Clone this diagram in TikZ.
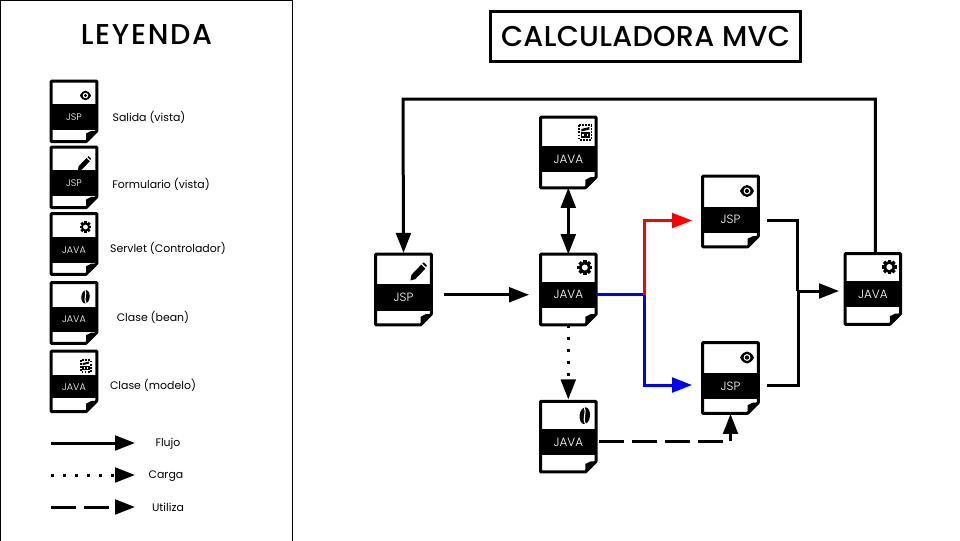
\documentclass[tikz,border=0pt]{standalone}
\usepackage{fontspec}
\setmainfont{Poppins}
\newfontfamily\titlefont{Poppins Medium}
\newfontfamily\bandfont{Poppins Light}
\usetikzlibrary{arrows.meta,calc}
\tikzset{
  flecha/.style={line width=2.25pt,-{Triangle[length=15pt,width=11pt]}},
  linea/.style={line width=2.25pt},
  punteado/.style={dash pattern=on 2.25pt off 6.75pt},
  rayado/.style={dash pattern=on 18.6pt off 6.15pt},
  docbody/.style={inner sep=0pt},
  docband/.style={fill=black,text=white,inner sep=0pt,font=\bandfont\fontsize{\bandsize}{\bandsize}\selectfont},
  leyenda/.style={font=\fontsize{8.2pt}{10pt}\selectfont,inner sep=0pt},
  titulos/.style={font=\titlefont\fontsize{21.5pt}{23pt}\selectfont,inner sep=0pt},
}
\newcommand{\bandsize}{7.2pt}
% name, x, y, width, height, band top, band bottom, label, icon
\newcommand{\docfile}[9]{
  \node[docbody,minimum width=#4*0.75pt,minimum height=#5*0.75pt] (#1) at (#2,#3) {};
  \fill[white] (#1.north west) rectangle (#1.south east);
  \draw[line width=2.25pt,line join=round] (#1.north west) -- (#1.north east) -- ([yshift=8pt]#1.south east) -- ([xshift=-8pt]#1.south east) -- (#1.south west) -- cycle;
  \fill ([yshift=8pt]#1.south east) -- ([xshift=-8pt]#1.south east) -- ([xshift=-8pt,yshift=6pt]#1.south east) -- ([xshift=-4pt,yshift=8pt]#1.south east) -- cycle;
  \node[docband,minimum width=#4*0.75pt,minimum height=(#7-#6)*0.75pt,text depth=0pt] (#1band) at (#2,#3+#6/2+#7/2) {#8};
  \begin{scope}[shift={(#2+#4/2-11,#3-#5/2+13)}]
  #9
  \end{scope}
}
% iconos
\newcommand{\iconeye}{
  \begin{scope}[shift={(0,1.5)}]
  \fill (-7,0) .. controls (-3,-8) and (3,-8) .. (7,0) .. controls (3,8) and (-3,8) .. (-7,0) -- cycle;
  \fill[white] (0,0) circle (3.4);
  \fill (0,0) circle (2.1);
  \end{scope}
}
\newcommand{\iconpencil}{
  \begin{scope}[shift={(-2,4)}]
  \fill (-7.5,9) -- (-6.6,3.4) -- (3.2,-6.8) -- (7.4,-2.8) -- (-2.6,7.6) -- cycle;
  \fill (4.4,-8) -- (5.8,-9.2) -- (9,-6) -- (8,-4.4) -- cycle;
  \end{scope}
}
\newcommand{\icongear}{
  \foreach \a in {0,45,...,135} {\fill[rotate=\a] (-1.7,-7.4) rectangle (1.7,7.4);}
  \fill (0,0) circle (5.7);
  \fill[white] (0,0) circle (3);
}
\newcommand{\iconbean}{
  \begin{scope}[shift={(0,1)}]
  \fill[rotate=-6] (0,0) ellipse (5.2 and 8.4);
  \draw[white,line width=.8pt] (-.6,-8.4) .. controls (2.4,-3) and (-3,2) .. (.8,8.4);
  \end{scope}
}
\newcommand{\iconqr}{
  \begin{scope}[shift={(0.5,2)}]
  \draw[line width=1.3pt,dash pattern=on 1.3pt off 1pt] (-6.2,-7.2) rectangle (6.2,7.2);
  \fill (-4,-3.5) -- (4,-5.5) -- (4,-3) -- (-4,-1) -- cycle;
  \draw[line width=1pt] (-3.6,.5) rectangle (-.6,4.5);
  \draw[line width=1pt] (.8,.5) rectangle (3.8,4.5);
  \end{scope}
}
\begin{document}
\begin{tikzpicture}[x=0.75pt,y=-0.75pt]
\useasboundingbox (0,0) rectangle (960,540);
\draw[line width=.75pt] (0.5,0.5) rectangle (292,545);
\node[titulos,font=\titlefont\addfontfeature{LetterSpace=6}\fontsize{21.5pt}{23pt}\selectfont] (leyendatit) at (146.5,35) {LEYENDA};
\node[draw,line width=2.25pt,minimum width=310*0.75pt,minimum height=50*0.75pt,titulos,font=\titlefont\addfontfeature{LetterSpace=1}\fontsize{21.5pt}{23pt}\selectfont] (titulo) at (645.5,36.5) {CALCULADORA MVC};

% leyenda
\docfile{legsalida}{74}{111.3}{45}{60}{-7}{18.5}{JSP}{\begin{scope}[scale=.8]\iconeye\end{scope}}
\docfile{legform}{74}{177.3}{45}{60}{-7}{19}{JSP}{\begin{scope}[scale=.8]\iconpencil\end{scope}}
\docfile{legservlet}{74}{244}{45}{60}{-7}{19}{JAVA}{\begin{scope}[scale=.8]\icongear\end{scope}}
\docfile{legbean}{74}{313}{45}{60}{-6}{19}{JAVA}{\begin{scope}[scale=.8]\iconbean\end{scope}}
\docfile{legmodelo}{74}{381.3}{45}{60}{-6}{17}{JAVA}{\begin{scope}[scale=.8]\iconqr\end{scope}}
\node[leyenda] (txtsalida) at (149,117) {Salida (vista)};
\node[leyenda] (txtform) at (161,184) {Formulario (vista)};
\node[leyenda] (txtservlet) at (168,248) {Servlet (Controlador)};
\node[leyenda] (txtbean) at (153,317) {Clase (bean)};
\node[leyenda] (txtmodelo) at (153,385) {Clase (modelo)};

\coordinate (a1) at (51,443); \coordinate (b1) at (135,443);
\coordinate (a2) at (51,475); \coordinate (b2) at (135,475);
\coordinate (a3) at (51,507); \coordinate (b3) at (135,507);
\draw[flecha] (a1) -- (b1);
\draw[flecha,punteado] (a2) -- (b2);
\draw[flecha,rayado] (a3) -- (b3);
\node[leyenda] (txtflujo) at (168,444) {Flujo};
\node[leyenda] (txtcarga) at (166,476) {Carga};
\node[leyenda] (txtutiliza) at (168,507) {Utiliza};

% diagrama
\renewcommand{\bandsize}{9pt}
\docfile{form}{403.5}{289.5}{55}{70}{-5.5}{21}{JSP}{\iconpencil}
\docfile{modelo}{568.3}{152.5}{55}{70}{-6.5}{19.5}{JAVA}{\iconqr}
\docfile{ctrl}{568.3}{289.5}{55}{70}{-7.5}{18}{JAVA}{\icongear}
\docfile{bean}{568.3}{436.7}{55}{70}{-7.5}{18}{JAVA}{\iconbean}
\docfile{salidaa}{730.5}{211.5}{55}{70}{-5}{21}{JSP}{\iconeye}
\docfile{salidab}{730.5}{378}{55}{70}{-5}{21}{JSP}{\iconeye}
\docfile{ctrlb}{872.8}{289}{55}{70}{-8}{18.3}{JAVA}{\icongear}

\coordinate (cruce) at (ctrlband.east -| 644,0);
\coordinate (union) at (797,291);
\draw[flecha,shorten <=9.2pt,shorten >=8.6pt] (form.east |- ctrlband) -- (ctrlband.west);
\draw[flecha,{Triangle[length=15pt,width=11pt]}-{Triangle[length=15pt,width=11pt]}] (modelo.south) -- (ctrl.north);
\draw[flecha,blue,shorten >=8pt] (ctrlband.east) -- (cruce) |- (salidab.west |- 0,385);
\draw[flecha,red,shorten >=8pt] (cruce) |- (salidaa.west |- 0,220.5);
\draw[linea,shorten <=6.75pt] (salidaa.east |- 0,220.5) -| (union);
\draw[linea,shorten <=6.75pt] (salidab.east |- 0,385) -| (798,291);
\draw[flecha,shorten >=4.5pt] (union) -- (ctrlb.west |- union);
\draw[flecha,shorten >=1pt] ($(ctrlb.north)+(2.5,0)$) |- (403,99) -- (form.north);
\draw[flecha,punteado,shorten >=1.5pt] (ctrl.south) -- (bean.north);
\draw[flecha,rayado,shorten <=2pt,shorten >=.5pt] (bean.east |- 0,441) -| (salidab.south);
\end{tikzpicture}
\end{document}
